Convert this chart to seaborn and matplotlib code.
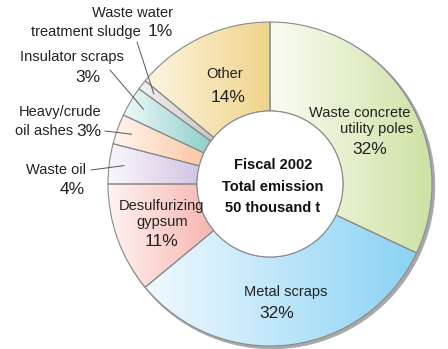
import numpy as np
import matplotlib
matplotlib.use('Agg')
import matplotlib.pyplot as plt
from matplotlib.colors import LinearSegmentedColormap
from matplotlib.patches import Circle
import seaborn as sns

sns.set_theme(style='white')
plt.rcParams['font.family'] = ['Liberation Sans', 'DejaVu Sans']

# data (clockwise from 12 o'clock)
categories = ['Waste concrete utility poles', 'Metal scraps', 'Desulfurizing gypsum',
              'Waste oil', 'Heavy/crude oil ashes', 'Insulator scraps',
              'Waste water treatment sludge', 'Other']
shares = [32, 32, 11, 4, 3, 3, 1, 14]
dark_cols = ['#cde2a4', '#8ad2f4', '#f7b4af', '#d3c4e2', '#fbc7a4', '#8ccfca', '#c6c6c6', '#efd48a']
light_cols = ['#fafcf3', '#f0f9fe', '#fff4f2', '#faf7fc', '#fff6ef', '#f0faf9', '#f3f3f3', '#fcf5e2']

W, H = 448, 349
cx, cy = 270, H - 184
R, r_in = 162, 73

fig = plt.figure(figsize=(W / 100, H / 100), dpi=100)
ax = fig.add_axes([0, 0, 1, 1])

# drop shadow
ax.add_patch(Circle((cx + 2, cy - 2), R + 0.5, color='#a8a8a8', zorder=0))

wedges, _ = ax.pie(shares, startangle=90, counterclock=False, radius=R, center=(cx, cy),
                   wedgeprops=dict(width=R - r_in, edgecolor='#8a8a8a', linewidth=0.8,
                                   facecolor='none'))
for w, c0, c1 in zip(wedges, light_cols, dark_cols):
    w.set_zorder(3)
    ext = w.get_path().get_extents()
    grad = np.linspace(0, 1, 256).reshape(1, -1)
    cmap = LinearSegmentedColormap.from_list('g', [c0, c1])
    im = ax.imshow(grad, extent=[ext.x0, ext.x1, ext.y0, ext.y1], cmap=cmap,
                   aspect='auto', zorder=2, interpolation='bilinear')
    im.set_clip_path(w)

ax.add_patch(Circle((cx, cy), r_in, facecolor='white', edgecolor='#8a8a8a', lw=0.8, zorder=4))

ax.set_xlim(0, W)
ax.set_ylim(0, H)
ax.set_aspect('equal')
ax.axis('off')

lab = dict(fontsize=10.5, color='#222222', va='center', zorder=6)
pct = dict(fontsize=12.5, color='#222222', va='center', zorder=6)


def t(x, y, s, kw, ha='center', **extra):
    ax.text(x, H - y, s, ha=ha, **kw, **extra)


# inside labels
t(225, 74, 'Other', lab)
t(228, 97, '14%', pct)
t(360, 113, 'Waste concrete', lab)
t(377, 129, 'utility poles', lab)
t(370, 150, '32%', pct)
t(286, 292, 'Metal scraps', lab)
t(277, 313, '32%', pct)
t(161, 206, 'Desulfurizing', lab)
t(162, 222, 'gypsum', lab)
t(162, 241, '11%', pct)

# centre
for yy, s in [(165, 'Fiscal 2002'), (187, 'Total emission'), (208, '50 thousand t')]:
    ax.text(273, H - yy, s, fontsize=10.5, fontweight='bold', color='#111111',
            ha='center', va='center', zorder=6)

# outside labels with leader lines
t(132, 13, 'Waste water', lab)
t(141, 32, 'treatment sludge', lab, ha='right')
t(148, 32, '1%', pct, ha='left')
t(72, 57, 'Insulator scraps', lab)
t(88, 77, '3%', pct)
t(60, 112, 'Heavy/crude', lab)
t(73, 131, 'oil ashes', lab, ha='right')
t(76, 131, '3%', pct, ha='left')
t(56, 170, 'Waste oil', lab)
t(72, 190, '4%', pct)

cum = np.cumsum([0] + shares)
mids = 90 - (cum[:-1] + cum[1:]) / 2 * 3.6
starts = {3: (91, 170), 4: (105, 131), 5: (110, 70), 6: (137, 42)}
for i, (sx, sy) in starts.items():
    a = np.deg2rad(mids[i])
    ex, ey = cx + 147 * np.cos(a), cy + 147 * np.sin(a)
    ax.plot([sx, ex], [H - sy, ey], color='#555555', lw=0.7, zorder=6)

fig.savefig('out.png', dpi=100)
